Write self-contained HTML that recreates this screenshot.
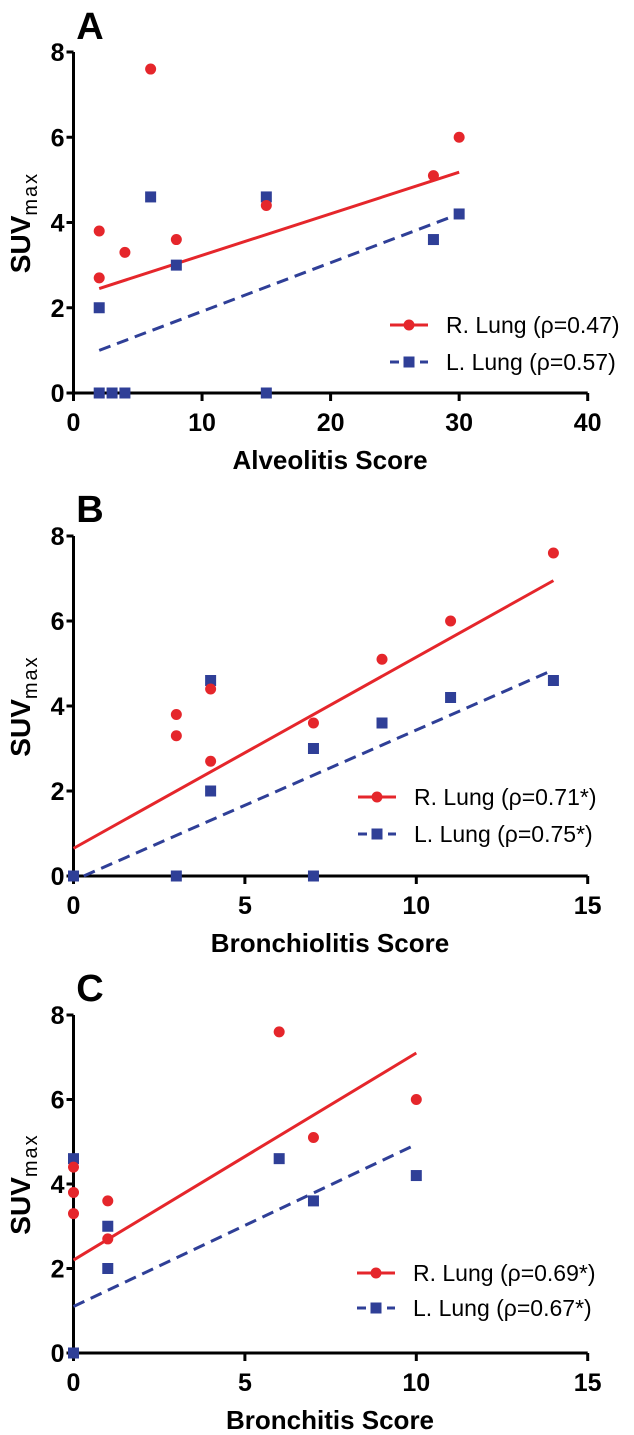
<!DOCTYPE html>
<html><head><meta charset="utf-8">
<style>
html,body{margin:0;padding:0;background:#fff;}
svg{display:block;font-family:"Liberation Sans",Arial,sans-serif;}
</style></head>
<body>
<svg id="chart" width="634" height="1435" viewBox="0 0 634 1435" xmlns="http://www.w3.org/2000/svg"></svg>
<script>
// Panel A data
const aRedX = [2, 2, 4, 6, 8, 15, 28, 30];
const aRedY = [3.8, 2.7, 3.3, 7.6, 3.6, 4.4, 5.1, 6.0];
const aBlueX = [2, 2, 3, 4, 6, 8, 15, 15, 28, 30];
const aBlueY = [2.0, 0, 0, 0, 4.6, 3.0, 4.6, 0, 3.6, 4.2];
const aRedFitX = [2, 30];
const aRedFitY = [2.45, 5.18];
const aBlueFitX = [2, 30];
const aBlueFitY = [1.0, 4.2];
const aXTicks = [0, 10, 20, 30, 40];
// Panel B data
const bRedX = [3, 3, 4, 4, 7, 9, 11, 14];
const bRedY = [3.8, 3.3, 4.4, 2.7, 3.6, 5.1, 6.0, 7.6];
const bBlueX = [0, 3, 4, 4, 7, 7, 9, 11, 14];
const bBlueY = [0, 0, 4.6, 2.0, 3.0, 0, 3.6, 4.2, 4.6];
const bRedFitX = [0, 14];
const bRedFitY = [0.65, 6.95];
const bBlueFitX = [0.3, 14];
const bBlueFitY = [0, 4.85];
const bXTicks = [0, 5, 10, 15];
// Panel C data
const cRedX = [0, 0, 0, 1, 1, 6, 7, 10];
const cRedY = [4.4, 3.8, 3.3, 3.6, 2.7, 7.6, 5.1, 6.0];
const cBlueX = [0, 0, 1, 1, 6, 7, 10];
const cBlueY = [4.6, 0, 3.0, 2.0, 4.6, 3.6, 4.2];
const cRedFitX = [0, 10];
const cRedFitY = [2.2, 7.1];
const cBlueFitX = [0, 9.9];
const cBlueFitY = [1.1, 4.9];
const cXTicks = [0, 5, 10, 15];
const yTicks = [0, 2, 4, 6, 8];

const NS = "http://www.w3.org/2000/svg";
const svg = document.getElementById("chart");
const RED = "#e5262b", BLUE = "#2f3f97";
function mk(tag, attrs, parent) {
  const e = document.createElementNS(NS, tag);
  for (const k in attrs) e.setAttribute(k, attrs[k]);
  (parent || svg).appendChild(e);
  return e;
}
function panel(p) {
  const g = mk("g", {});
  
  
  const x0 = 73.5, x1 = 587.7;
  const sx = v => x0 + (v - p.xmin) / (p.xmax - p.xmin) * (x1 - x0);
  const sy = v => p.y0 - v / 8 * (p.y0 - p.y8);
  const L = mk("text", {x: 90, y: p.letterY, "font-size": 38, "font-weight": "bold", "text-anchor": "middle", fill: "#000"}, g);
  L.textContent = p.id;
  
  
  const ya = mk("line", {x1: x0, y1: p.y8, x2: x0, y2: p.y0 + 7, stroke: "#000", "stroke-width": 3}, g);
  
  
  const xa = mk("line", {x1: x0 - 7, y1: p.y0, x2: x1, y2: p.y0, stroke: "#000", "stroke-width": 3}, g);
  
  
  yTicks.forEach(t => {
    const y = sy(t);
    mk("line", {x1: x0 - 7, y1: y, x2: x0, y2: y, stroke: "#000", "stroke-width": 3}, g);
    const tl = mk("text", {x: x0 - 9, y: y + 9, "font-size": 25, "font-weight": "bold", "text-anchor": "end"}, g);
    tl.textContent = t;
    
    
  });
  p.xTicks.forEach(t => {
    const x = sx(t);
    mk("line", {x1: x, y1: p.y0, x2: x, y2: p.y0 + 8, stroke: "#000", "stroke-width": 3}, g);
    const tl = mk("text", {x: x, y: p.y0 + 38, "font-size": 25, "font-weight": "bold", "text-anchor": "middle"}, g);
    tl.textContent = t;
    
    
  });
  const xt = mk("text", {x: 330, y: p.y0 + 76, "font-size": 26, "font-weight": "bold", "text-anchor": "middle"}, g);
  xt.textContent = p.xTitle;
  
  
  const cy = (p.y0 + p.y8) / 2;
  const yt = mk("text", {x: 0, y: 0, "font-size": 28, "font-weight": "bold", "text-anchor": "middle", transform: "translate(30," + cy + ") rotate(-90)"}, g);
  yt.innerHTML = 'SUV<tspan font-size="20" font-weight="normal" dy="7" letter-spacing="2">max</tspan>';
  
  
  const rl = mk("line", {x1: sx(p.rfx[0]), y1: sy(p.rfy[0]), x2: sx(p.rfx[1]), y2: sy(p.rfy[1]), stroke: RED, "stroke-width": 3}, g);
  
  
  const bl = mk("line", {x1: sx(p.bfx[0]), y1: sy(p.bfy[0]), x2: sx(p.bfx[1]), y2: sy(p.bfy[1]), stroke: BLUE, "stroke-width": 3, "stroke-dasharray": "12,7"}, g);
  
  
  p.bx.forEach((v, i) => {
    const r = mk("rect", {x: sx(v) - 5.5, y: sy(p.by[i]) - 5.5, width: 11, height: 11, fill: BLUE}, g);
    
    
  });
  p.rx.forEach((v, i) => {
    const c = mk("circle", {cx: sx(v), cy: sy(p.ry[i]), r: 5.5, fill: RED}, g);
    
    
  });
  const lg = mk("g", {}, g);
  
  
  const lx = p.legX;
  mk("line", {x1: lx, y1: p.legY1, x2: lx + 38, y2: p.legY1, stroke: RED, "stroke-width": 3}, lg);
  mk("circle", {cx: lx + 19, cy: p.legY1, r: 5.5, fill: RED}, lg);
  const t1 = mk("text", {x: lx + 56, y: p.legY1 + 8, "font-size": 23}, lg);
  t1.textContent = p.leg1;
  
  
  mk("line", {x1: lx, y1: p.legY2, x2: lx + 38, y2: p.legY2, stroke: BLUE, "stroke-width": 3, "stroke-dasharray": "9,6"}, lg);
  mk("rect", {x: lx + 13.5, y: p.legY2 - 5.5, width: 11, height: 11, fill: BLUE}, lg);
  const t2 = mk("text", {x: lx + 56, y: p.legY2 + 8, "font-size": 23}, lg);
  t2.textContent = p.leg2;
  
  
}
panel({id: "A", xmin: 0, xmax: 40, y0: 393, y8: 52, letterY: 39, xTicks: aXTicks, xTitle: "Alveolitis Score",
  rx: aRedX, ry: aRedY, bx: aBlueX, by: aBlueY, rfx: aRedFitX, rfy: aRedFitY, bfx: aBlueFitX, bfy: aBlueFitY,
  legX: 390, legY1: 325, legY2: 362, leg1: "R. Lung (\u03C1=0.47)", leg2: "L. Lung (\u03C1=0.57)"});
panel({id: "B", xmin: 0, xmax: 15, y0: 876, y8: 536, letterY: 522, xTicks: bXTicks, xTitle: "Bronchiolitis Score",
  rx: bRedX, ry: bRedY, bx: bBlueX, by: bBlueY, rfx: bRedFitX, rfy: bRedFitY, bfx: bBlueFitX, bfy: bBlueFitY,
  legX: 358, legY1: 797, legY2: 834, leg1: "R. Lung (\u03C1=0.71*)", leg2: "L. Lung (\u03C1=0.75*)"});
panel({id: "C", xmin: 0, xmax: 15, y0: 1353, y8: 1015, letterY: 1001, xTicks: cXTicks, xTitle: "Bronchitis Score",
  rx: cRedX, ry: cRedY, bx: cBlueX, by: cBlueY, rfx: cRedFitX, rfy: cRedFitY, bfx: cBlueFitX, bfy: cBlueFitY,
  legX: 357, legY1: 1273, legY2: 1308, leg1: "R. Lung (\u03C1=0.69*)", leg2: "L. Lung (\u03C1=0.67*)"});
</script>
</body></html>
